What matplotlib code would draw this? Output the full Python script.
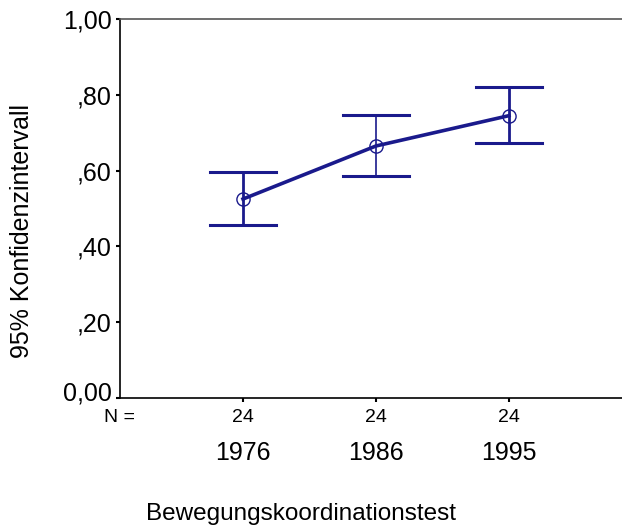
import matplotlib
matplotlib.use("Agg")
import matplotlib.pyplot as plt
import matplotlib.transforms as mtransforms
import numpy as np

plt.rcParams['font.family'] = ['Liberation Sans', 'DejaVu Sans']

years = ["1976", "1986", "1995"]
n_counts = ["24", "24", "24"]
means = [0.525, 0.665, 0.745]
lower = [0.456, 0.586, 0.673]
upper = [0.596, 0.747, 0.821]
yticks = [0.0, 0.2, 0.4, 0.6, 0.8, 1.0]
ytick_labels = ["0,00", ",20", ",40", ",60", ",80", "1,00"]
bar_widths = [2.0, 1.2, 2.0]

W, H = 622, 530
fig = plt.figure(figsize=(W / 100, H / 100), dpi=100)
ax = fig.add_axes([120 / W, 1 - 398 / H, (622 - 120) / W, (398 - 19) / H])

navy = '#1a1a8c'
x = np.arange(1, len(years) + 1)

# confidence interval bars with caps
for xi, lo, hi, lw in zip(x, lower, upper, bar_widths):
    ax.plot([xi, xi], [lo, hi], color=navy, lw=lw, solid_capstyle='butt', zorder=2)
    ax.plot([xi - 0.25, xi + 0.25], [lo, lo], color=navy, lw=2.2, zorder=2)
    ax.plot([xi - 0.25, xi + 0.25], [hi, hi], color=navy, lw=2.2, zorder=2)

# means connected by a line
ax.plot(x, means, color=navy, lw=2.6, zorder=3)
ax.plot(x, means, linestyle='none', marker='o', markersize=9.5,
        markerfacecolor='none', markeredgecolor=navy, markeredgewidth=1.0, zorder=4)

ax.set_xlim(1 - 123 / 133, 3 + 113 / 133)
ax.set_ylim(0, 1.0)

ax.spines['right'].set_visible(False)
ax.spines['top'].set_color('#555555')
ax.spines['top'].set_linewidth(1.2)
ax.spines['bottom'].set_color('black')
ax.spines['bottom'].set_linewidth(1.2)
ax.spines['left'].set_color('black')
ax.spines['left'].set_linewidth(1.2)

ax.set_yticks(yticks)
ax.set_yticklabels(ytick_labels, fontsize=18)
ax.tick_params(axis='y', length=3, width=1.5, pad=3)
# lift the bottom label slightly so it sits above the x axis line
bottom_label = ax.get_yticklabels()[0]
bottom_label.set_transform(bottom_label.get_transform() +
                           mtransforms.ScaledTranslation(0, 7 / 100, fig.dpi_scale_trans))

ax.set_xticks(x)
ax.set_xticklabels([])
ax.tick_params(axis='x', length=3, width=1.5, direction='out')

xt = ax.get_xaxis_transform()
for xi, n, y in zip(x, n_counts, years):
    ax.annotate(n, xy=(xi, 0), xycoords=xt, xytext=(0, -19), textcoords='offset pixels',
                ha='center', va='center', fontsize=14)
    ax.annotate(y, xy=(xi, 0), xycoords=xt, xytext=(0, -55), textcoords='offset pixels',
                ha='center', va='center', fontsize=18)
ax.annotate("N =", xy=(ax.get_xlim()[0], 0), xycoords=xt, xytext=(0, -19),
            textcoords='offset pixels', ha='center', va='center', fontsize=14)

fig.text(22 / W, 1 - 231 / H, "95% Konfidenzintervall", rotation=90,
         ha='center', va='center', fontsize=18)
fig.text(301 / W, 1 - 514 / H, "Bewegungskoordinationstest",
         ha='center', va='center', fontsize=17.5)

fig.savefig("out.png", dpi=100)
